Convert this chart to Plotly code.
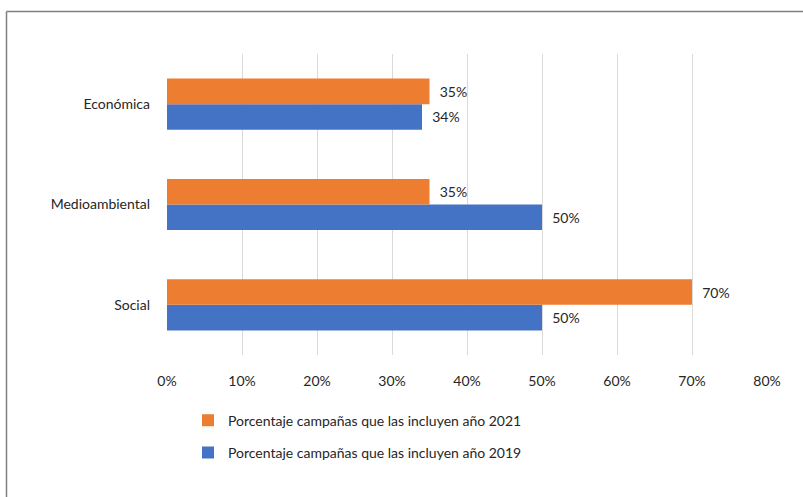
import plotly.graph_objects as go

categories = ["Social", "Medioambiental", "Económica"]
values_2019 = [0.50, 0.50, 0.34]
values_2021 = [0.70, 0.35, 0.35]
x_ticks = [0, 0.1, 0.2, 0.3, 0.4, 0.5, 0.6, 0.7, 0.8]
name_2019 = "Porcentaje campañas que las incluyen año 2019"
name_2021 = "Porcentaje campañas que las incluyen año 2021"

FONT = "Lato"
TXT = "#262626"

fig = go.Figure()
fig.add_trace(go.Bar(
    y=categories, x=values_2019, orientation="h", name=name_2019,
    marker=dict(color="#4472C4", line=dict(width=0)),
    texttemplate="\u00a0\u00a0%{x:.0%}", textposition="outside",
    textfont=dict(family=FONT, size=14, color=TXT), cliponaxis=False,
    legendgroup="a", legendrank=2,
))
fig.add_trace(go.Bar(
    y=categories, x=values_2021, orientation="h", name=name_2021,
    marker=dict(color="#ED7D31", line=dict(width=0)),
    texttemplate="\u00a0\u00a0%{x:.0%}", textposition="outside",
    textfont=dict(family=FONT, size=14, color=TXT), cliponaxis=False,
    legendgroup="b", legendrank=1,
))

fig.update_layout(
    width=803, height=497,
    margin=dict(l=167, r=36, t=54, b=142),
    paper_bgcolor="white", plot_bgcolor="white",
    barmode="group", bargap=0.49, bargroupgap=0,
    font=dict(family=FONT, size=14, color=TXT),
    showlegend=True,
    legend=dict(
        orientation="v", x=0.035, y=-0.165, xanchor="left", yanchor="top",
        traceorder="grouped", tracegroupgap=11,
        font=dict(family=FONT, size=14, color=TXT),
        bgcolor="rgba(0,0,0,0)",
    ),
    xaxis=dict(
        range=[0, 0.8], tickvals=x_ticks, tickformat=".0%",
        showgrid=True, gridcolor="#D9D9D9", gridwidth=1,
        zeroline=False, showline=False, ticks="",
        ticklabelstandoff=16,
        tickfont=dict(family=FONT, size=14, color=TXT),
    ),
    yaxis=dict(
        categoryorder="array", categoryarray=categories,
        showgrid=False, zeroline=False, showline=False, ticks="",
        ticklabelstandoff=16,
        tickfont=dict(family=FONT, size=14, color=TXT),
    ),
    shapes=[
        dict(type="line", xref="paper", yref="paper",
             x0=(6.5 - 167) / 600, x1=(810 - 167) / 600,
             y0=(355 - 11.5) / 301, y1=(355 - 11.5) / 301,
             line=dict(color="#7F7F7F", width=1.5)),
        dict(type="line", xref="paper", yref="paper",
             x0=(6.5 - 167) / 600, x1=(6.5 - 167) / 600,
             y0=(355 - 11.5) / 301, y1=(355 - 510) / 301,
             line=dict(color="#7F7F7F", width=1.5)),
    ],
)

fig.write_html(
    "out.html",
    config={"displayModeBar": False},
    post_script="document.body.style.margin='0';document.body.style.overflow='hidden';",
)
